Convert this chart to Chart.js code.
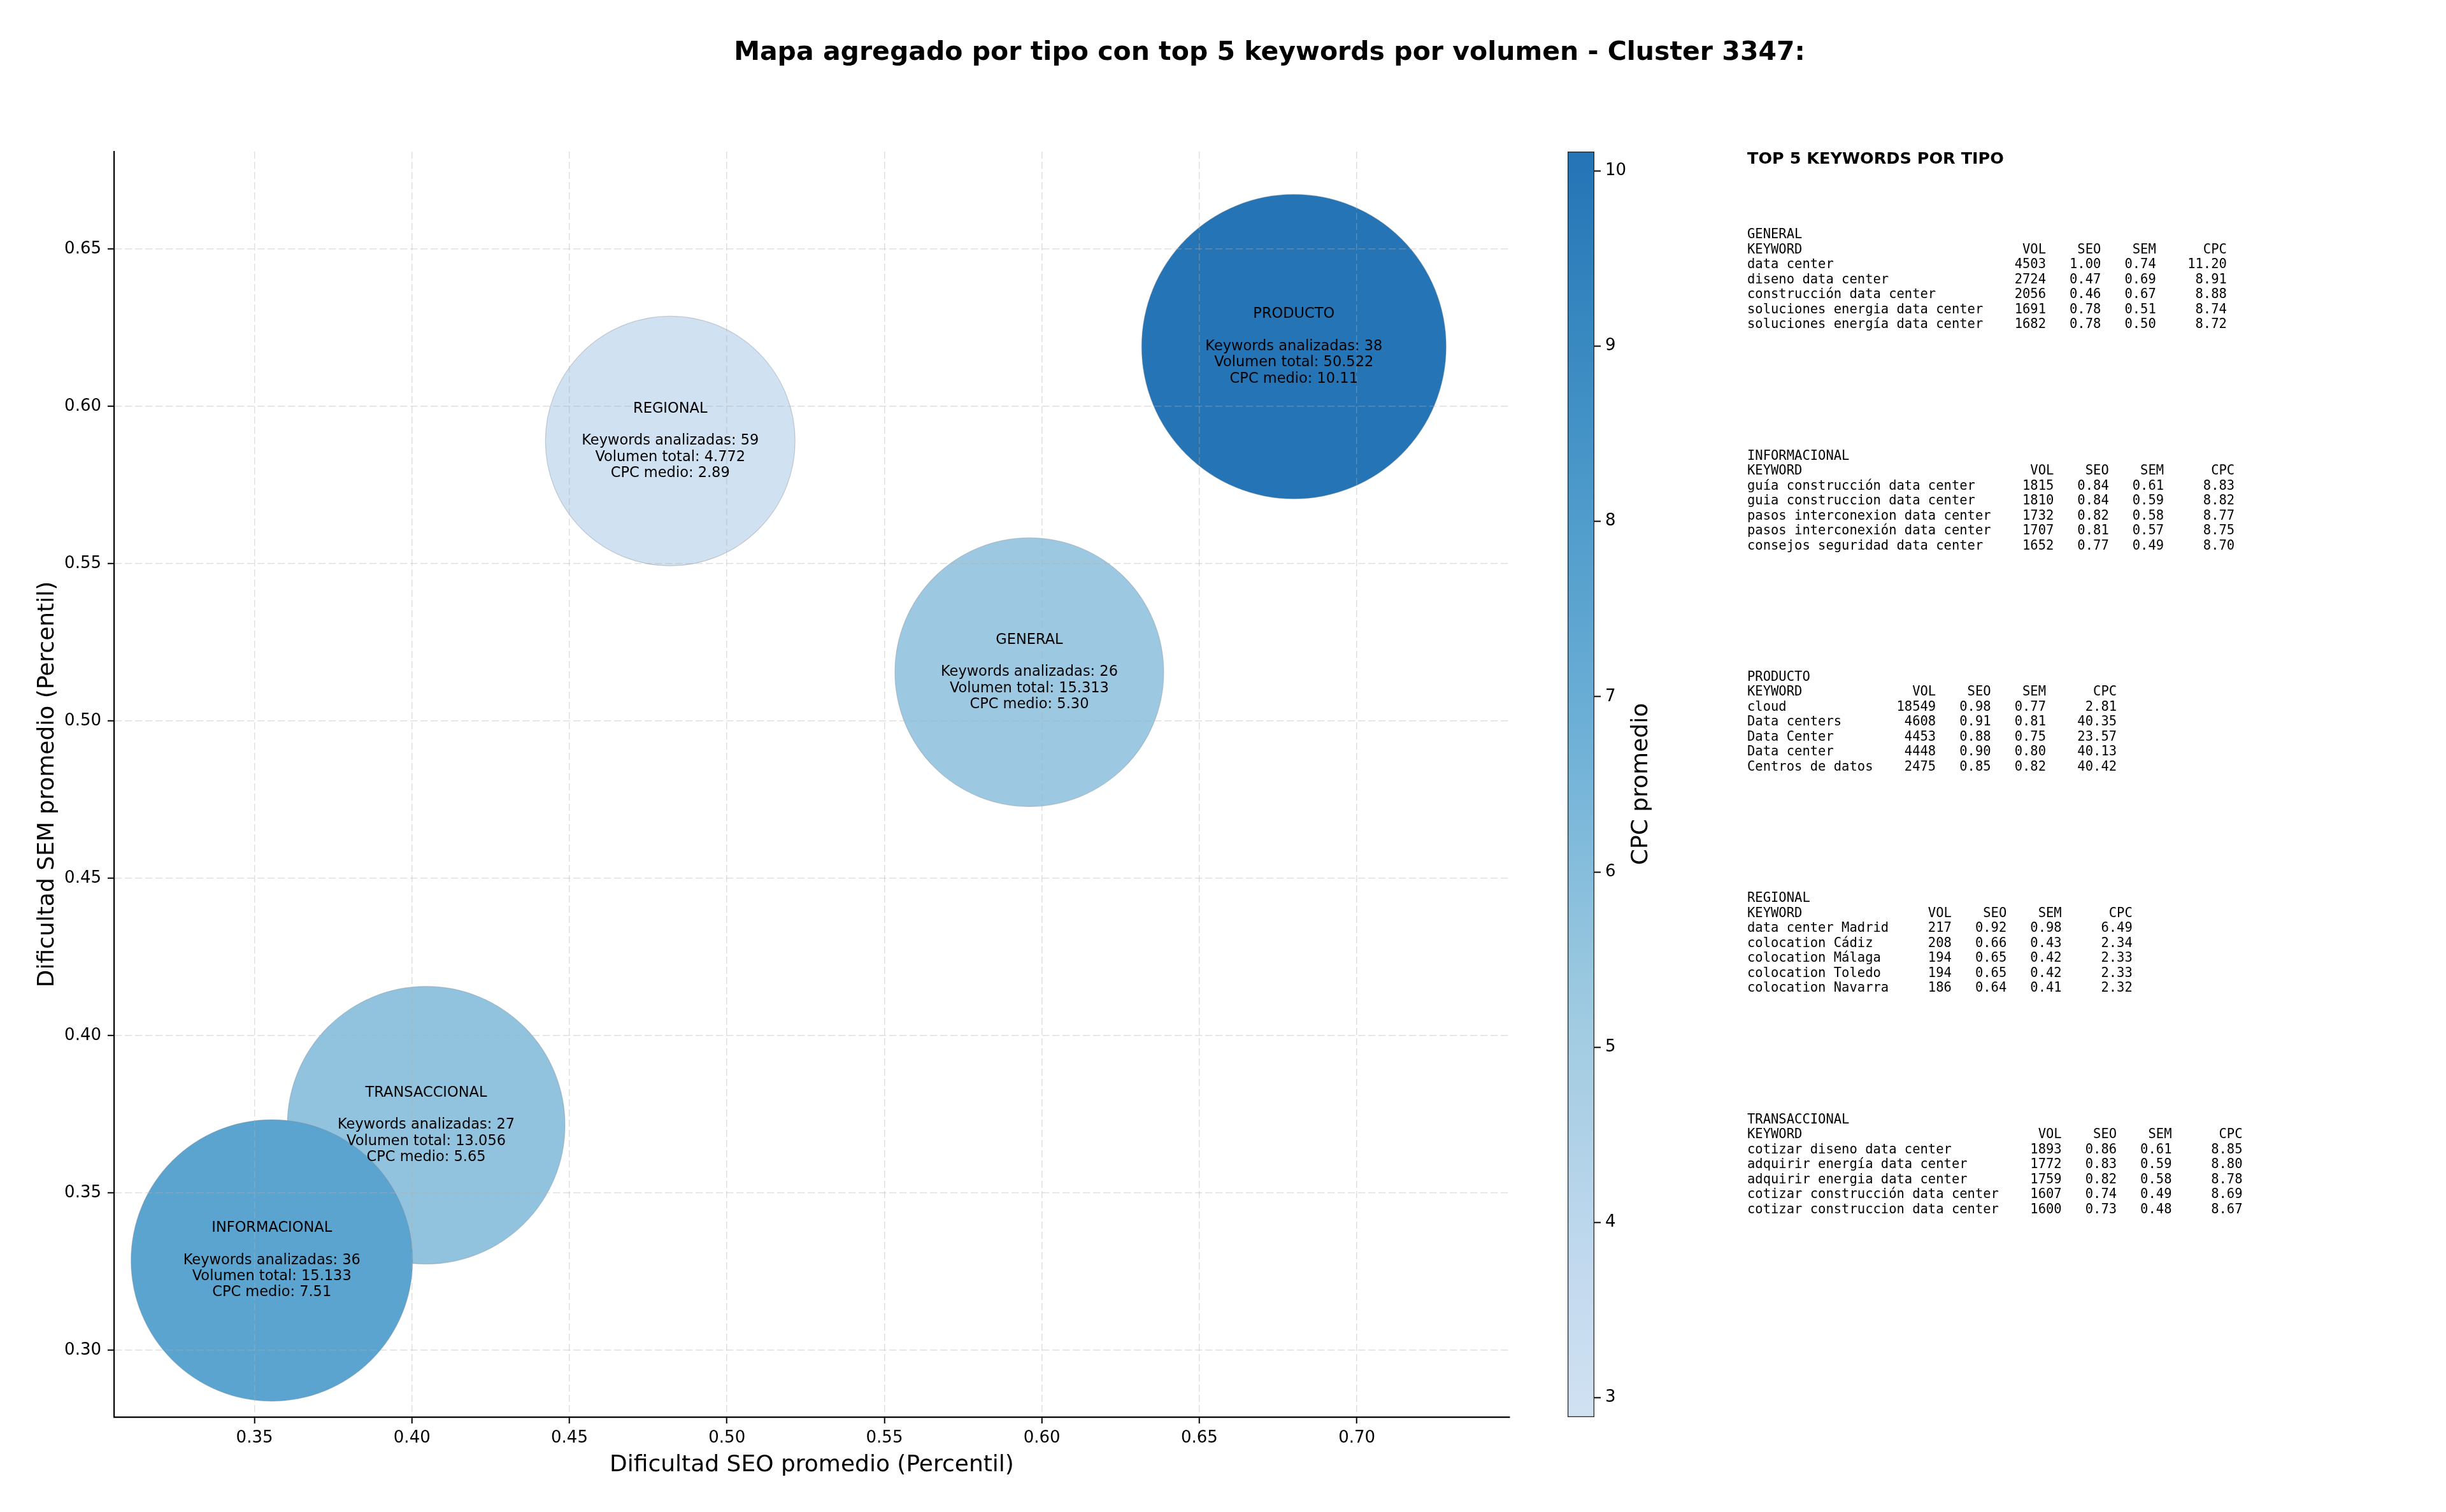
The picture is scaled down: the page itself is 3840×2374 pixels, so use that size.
<!DOCTYPE html>
<html>
<head>
<meta charset="utf-8">
<script src="https://cdn.jsdelivr.net/npm/chart.js@4.4.1/dist/chart.umd.min.js"></script>
<style>
html, body { margin: 0; padding: 0; background: #fff; }
#wrap { position: relative; width: 3840px; height: 2374px; }
#wrap canvas { position: absolute; left: 0; top: 0; }
</style>
</head>
<body>
<div id="wrap">
  <canvas id="chart" width="3840" height="2374"></canvas>
  <canvas id="barra" width="3840" height="2374"></canvas>
</div>
<script>
// Datos por tipo
const tipos = ['GENERAL', 'INFORMACIONAL', 'PRODUCTO', 'REGIONAL', 'TRANSACCIONAL'];
const seoPromedio = [0.596, 0.3555, 0.680, 0.482, 0.4045];
const semPromedio = [0.5155, 0.3285, 0.619, 0.589, 0.3715];
const keywordsAnalizadas = [26, 36, 38, 59, 27];
const volumenTotal = [15313, 15133, 50522, 4772, 13056];
const cpcMedio = [5.30, 7.51, 10.11, 2.89, 5.65];
// radio de cada burbuja en px, medido en la imagen
const radios = [211, 221, 239, 196, 218];

const ticksX = [0.35, 0.40, 0.45, 0.50, 0.55, 0.60, 0.65, 0.70];
const ticksY = [0.30, 0.35, 0.40, 0.45, 0.50, 0.55, 0.60, 0.65];
const ticksCpc = [3, 4, 5, 6, 7, 8, 9, 10];

// Top 5 keywords por tipo: [keyword, vol, seo, sem, cpc]
const topGeneral = [
    ['data center', 4503, 1.00, 0.74, 11.20],
    ['diseno data center', 2724, 0.47, 0.69, 8.91],
    ['construcción data center', 2056, 0.46, 0.67, 8.88],
    ['soluciones energia data center', 1691, 0.78, 0.51, 8.74],
    ['soluciones energía data center', 1682, 0.78, 0.50, 8.72]
];
const topInformacional = [
    ['guía construcción data center', 1815, 0.84, 0.61, 8.83],
    ['guia construccion data center', 1810, 0.84, 0.59, 8.82],
    ['pasos interconexion data center', 1732, 0.82, 0.58, 8.77],
    ['pasos interconexión data center', 1707, 0.81, 0.57, 8.75],
    ['consejos seguridad data center', 1652, 0.77, 0.49, 8.70]
];
const topProducto = [
    ['cloud', 18549, 0.98, 0.77, 2.81],
    ['Data centers', 4608, 0.91, 0.81, 40.35],
    ['Data Center', 4453, 0.88, 0.75, 23.57],
    ['Data center', 4448, 0.90, 0.80, 40.13],
    ['Centros de datos', 2475, 0.85, 0.82, 40.42]
];
const topRegional = [
    ['data center Madrid', 217, 0.92, 0.98, 6.49],
    ['colocation Cádiz', 208, 0.66, 0.43, 2.34],
    ['colocation Málaga', 194, 0.65, 0.42, 2.33],
    ['colocation Toledo', 194, 0.65, 0.42, 2.33],
    ['colocation Navarra', 186, 0.64, 0.41, 2.32]
];
const topTransaccional = [
    ['cotizar diseno data center', 1893, 0.86, 0.61, 8.85],
    ['adquirir energía data center', 1772, 0.83, 0.59, 8.80],
    ['adquirir energia data center', 1759, 0.82, 0.58, 8.78],
    ['cotizar construcción data center', 1607, 0.74, 0.49, 8.69],
    ['cotizar construccion data center', 1600, 0.73, 0.48, 8.67]
];
const tablas = [topGeneral, topInformacional, topProducto, topRegional, topTransaccional];

const titulo = 'Mapa agregado por tipo con top 5 keywords por volumen - Cluster 3347:';

const cpcMin = Math.min(...cpcMedio);
const cpcMax = Math.max(...cpcMedio);

Chart.defaults.font.family = '"DejaVu Sans", sans-serif';
Chart.defaults.color = '#000';

// Paleta "Blues" recortada
const blues = [[247,251,255],[222,235,247],[198,219,239],[158,202,225],[107,174,214],[66,146,198],[33,113,181],[8,81,156],[8,48,107]];
function azul(t) {
    const p = t * 8;
    const i = Math.min(7, Math.floor(p));
    const f = p - i;
    const a = blues[i], b = blues[i + 1];
    const c = a.map((v, k) => Math.round(v + (b[k] - v) * f));
    return `rgb(${c[0]}, ${c[1]}, ${c[2]})`;
}
function colorCpc(v) {
    const t = (v - cpcMin) / (cpcMax - cpcMin);
    return azul(0.2 + 0.54 * t);
}

// Formato con punto de miles
const miles = (n) => String(n).replace(/\B(?=(\d{3})+(?!\d))/g, '.');

// Construye las líneas de texto de cada bloque
function bloque(nombre, filas) {
    const w = Math.max(...filas.map(f => f[0].length));
    const lineas = [nombre,
        'KEYWORD'.padEnd(w) + ' ' + 'VOL'.padStart(7) + ' ' + 'SEO'.padStart(6) + ' ' + 'SEM'.padStart(6) + ' ' + 'CPC'.padStart(8)];
    filas.forEach(f => {
        lineas.push(f[0].padEnd(w) + ' ' + String(f[1]).padStart(7) + ' ' + f[2].toFixed(2).padStart(6) + ' ' +
            f[3].toFixed(2).padStart(6) + ' ' + f[4].toFixed(2).padStart(8));
    });
    return lineas;
}

const textos = {
    id: 'textos',
    afterDraw(chart) {
        const ctx = chart.ctx;
        ctx.save();
        ctx.fillStyle = '#000';
        ctx.textBaseline = 'middle';

        // título
        ctx.textAlign = 'center';
        ctx.font = 'bold 41px "DejaVu Sans"';
        ctx.fillText(titulo, 1993, 83);

        // etiquetas de las burbujas
        ctx.font = '22.5px "DejaVu Sans"';
        tipos.forEach((t, i) => {
            const el = chart.getDatasetMeta(i).data[0];
            const lineas = [t, '', 'Keywords analizadas: ' + keywordsAnalizadas[i],
                'Volumen total: ' + miles(volumenTotal[i]), 'CPC medio: ' + cpcMedio[i].toFixed(2)];
            lineas.forEach((l, k) => ctx.fillText(l, el.x, el.y + (k - 2) * 25.3));
        });

        // panel derecho
        ctx.textAlign = 'left';
        ctx.font = 'bold 25.5px "DejaVu Sans"';
        ctx.fillText('TOP 5 KEYWORDS POR TIPO', 2743, 250);
        ctx.font = '20.5px "DejaVu Sans Mono"';
        tipos.forEach((t, i) => {
            const y0 = 369 + i * 347.3;
            bloque(t, tablas[i]).forEach((l, k) => ctx.fillText(l, 2743, y0 + k * 23.5));
        });
        ctx.restore();
    }
};

const datasets = tipos.map((t, i) => ({
    label: t,
    data: [{ x: seoPromedio[i], y: semPromedio[i], r: radios[i] }],
    backgroundColor: colorCpc(cpcMedio[i]),
    borderColor: 'rgba(120, 130, 140, 0.35)',
    borderWidth: 1.2,
    hoverRadius: 0
}));

const rejilla = {
    z: 1,
    color: 'rgba(176, 176, 176, 0.4)',
    lineWidth: 1.5,
    tickLength: 10,
    tickWidth: 2,
    tickColor: '#000'
};

new Chart(document.getElementById('chart'), {
    type: 'bubble',
    data: { datasets: datasets },
    options: {
        responsive: false,
        animation: false,
        layout: { autoPadding: false, padding: { top: 238, right: 1470, left: 0, bottom: 0 } },
        plugins: { legend: { display: false }, tooltip: { enabled: false } },
        scales: {
            x: {
                type: 'linear',
                min: 0.3054,
                max: 0.7485,
                afterBuildTicks: s => { s.ticks = ticksX.map(v => ({ value: v })); },
                afterFit: s => { s.height = 149; },
                grid: rejilla,
                border: { display: true, color: '#000', width: 2.2, dash: [11, 5], z: 1 },
                ticks: { font: { size: 26 }, color: '#000', padding: 8, callback: v => v.toFixed(2) },
                title: { display: true, text: 'Dificultad SEO promedio (Percentil)', font: { size: 36 }, color: '#000', padding: { top: 0, bottom: 52 } }
            },
            y: {
                type: 'linear',
                min: 0.2787,
                max: 0.681,
                afterBuildTicks: s => { s.ticks = ticksY.map(v => ({ value: v })); },
                afterFit: s => { s.width = 179; },
                grid: rejilla,
                border: { display: true, color: '#000', width: 2.2, dash: [11, 5], z: 1 },
                ticks: { font: { size: 26 }, color: '#000', padding: 10, callback: v => v.toFixed(2) },
                title: { display: true, text: 'Dificultad SEM promedio (Percentil)', font: { size: 36 }, color: '#000', padding: { top: 53, bottom: 0 } }
            }
        }
    },
    plugins: [textos]
});

// Barra de color (CPC promedio)
function degradado(chart) {
    const area = chart.chartArea;
    if (!area) return null;
    const g = chart.ctx.createLinearGradient(0, area.bottom, 0, area.top);
    for (let k = 0; k <= 20; k++) {
        const v = cpcMin + (cpcMax - cpcMin) * k / 20;
        g.addColorStop(k / 20, colorCpc(v));
    }
    return g;
}

const etiquetaBarra = {
    id: 'etiquetaBarra',
    afterDraw(chart) {
        const ctx = chart.ctx;
        ctx.save();
        ctx.translate(2577, 1231);
        ctx.rotate(-Math.PI / 2);
        ctx.fillStyle = '#000';
        ctx.font = '36px "DejaVu Sans"';
        ctx.textAlign = 'center';
        ctx.textBaseline = 'middle';
        ctx.fillText('CPC promedio', 0, 0);
        ctx.restore();
    }
};

new Chart(document.getElementById('barra'), {
    type: 'bar',
    data: {
        labels: ['cpc'],
        datasets: [{
            data: [[cpcMin, cpcMax]],
            backgroundColor: c => degradado(c.chart),
            borderColor: '#222',
            borderWidth: 1.6,
            borderSkipped: false,
            barPercentage: 1,
            categoryPercentage: 1
        }]
    },
    options: {
        responsive: false,
        animation: false,
        layout: { padding: { left: 2461, top: 238, bottom: 149, right: 0 } },
        plugins: { legend: { display: false }, tooltip: { enabled: false } },
        scales: {
            x: { display: false },
            y: {
                position: 'right',
                min: cpcMin,
                max: cpcMax,
                afterBuildTicks: s => { s.ticks = ticksCpc.map(v => ({ value: v })); },
                afterFit: s => { s.width = 3840 - 2503; },
                grid: { drawOnChartArea: false, tickLength: 10, tickWidth: 2, tickColor: '#000' },
                border: { display: false },
                ticks: { font: { size: 26 }, color: '#000', padding: 7 }
            }
        }
    },
    plugins: [etiquetaBarra]
});
</script>
</body>
</html>
